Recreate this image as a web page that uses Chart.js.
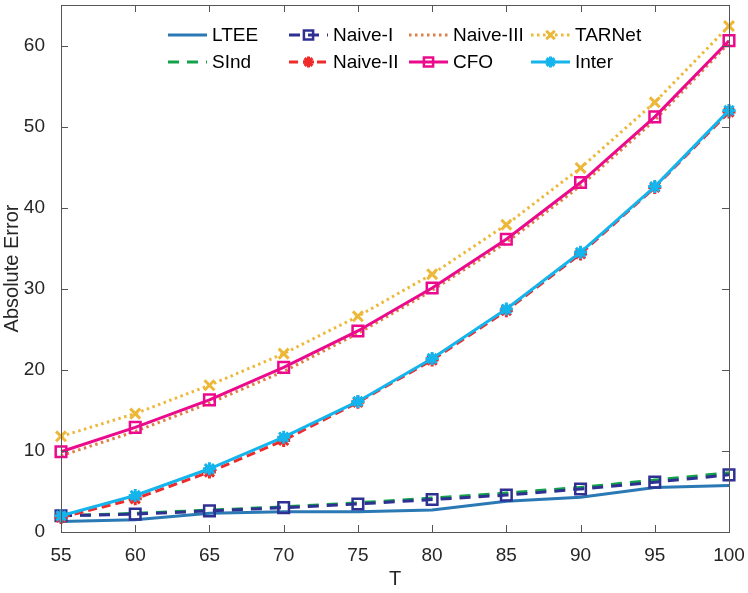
<!DOCTYPE html>
<html>
<head>
<meta charset="utf-8">
<script src="https://cdn.jsdelivr.net/npm/chart.js@4/dist/chart.umd.min.js"></script>
<style>
  html, body { margin: 0; padding: 0; background: #fff; }
  #wrap { width: 748px; height: 593px; }
</style>
</head>
<body>
<div id="wrap"><canvas id="errChart" width="748" height="593"></canvas></div>
<script>
// values
const tValues = [55, 60, 65, 70, 75, 80, 85, 90, 95, 100];
const yTicks = [0, 10, 20, 30, 40, 50, 60];

const ltee     = [1.3, 1.5, 2.3, 2.5, 2.5, 2.7, 3.8, 4.3, 5.5, 5.75];
const sind     = [2.0, 2.3, 2.7, 3.1, 3.6, 4.2, 4.8, 5.5, 6.4, 7.3];
const naiveI   = [2.0, 2.2, 2.6, 3.0, 3.45, 4.0, 4.55, 5.3, 6.15, 7.05];
const naiveII  = [1.8, 4.1, 7.4, 11.3, 16.0, 21.2, 27.3, 34.3, 42.5, 51.8];
const naiveIII = [9.4, 12.4, 15.9, 19.8, 24.5, 29.8, 35.7, 42.7, 50.8, 60.3];
const cfo      = [9.9, 12.9, 16.3, 20.3, 24.8, 30.1, 36.1, 43.1, 51.2, 60.6];
const tarnet   = [11.8, 14.6, 18.1, 22.0, 26.6, 31.8, 37.9, 44.9, 53.0, 62.4];
const inter    = [2.0, 4.5, 7.8, 11.7, 16.1, 21.4, 27.5, 34.5, 42.6, 52.0];

const FONT = '"Liberation Sans", Arial, Helvetica, sans-serif';

const pts = arr => arr.map((v, i) => ({ x: tValues[i], y: v }));

// drawing order follows this list (later = on top)
const series = [
    { label: 'LTEE', data: ltee, color: '#2a79b4', dash: [], marker: 0, style: 'circle' },
    { label: 'SInd', data: sind, color: '#12a34a', dash: [11, 8], marker: 0, style: 'circle' },
    { label: 'Naive-I', data: naiveI, color: '#2e3192', dash: [11, 8], marker: 7.5, style: 'rect' },
    { label: 'Naive-II', data: naiveII, color: '#ee2a2a', dash: [9, 5], marker: 6.5, style: 'star' },
    { label: 'Naive-III', data: naiveIII, color: '#dc8048', dash: [2.5, 3.5], marker: 0, style: 'circle' },
    { label: 'CFO', data: cfo, color: '#ec0a8c', dash: [], marker: 7.5, style: 'rect' },
    { label: 'TARNet', data: tarnet, color: '#edb83a', dash: [2.5, 3.5], marker: 7, style: 'crossRot' },
    { label: 'Inter', data: inter, color: '#14b4ec', dash: [], marker: 6.5, style: 'star' }
];

// legend grid: MATLAB fills columns first
const legendCols = [[0, 1], [2, 3], [4, 5], [6, 7]];

const datasets = series.map((s, i) => ({
    label: s.label,
    data: pts(s.data),
    borderColor: s.color,
    backgroundColor: s.style === 'rect' ? '#ffffff' : s.color,
    borderWidth: 3,
    borderDash: s.dash,
    pointStyle: s.style,
    pointRadius: s.marker,
    pointBorderWidth: s.style === 'rect' ? 2.5 : 3,
    pointBorderColor: s.color,
    pointBackgroundColor: s.style === 'rect' ? 'rgba(255,255,255,0)' : s.color,
    tension: 0,
    order: series.length - i,
    clip: false
}));

const boxPlugin = {
    id: 'boxTicks',
    afterDraw(chart) {
        const { ctx, chartArea: a, scales } = chart;
        ctx.save();
        ctx.strokeStyle = '#555';
        ctx.lineWidth = 1;
        ctx.strokeRect(a.left + 0.5, a.top + 0.5, a.right - a.left, a.bottom - a.top);
        const len = 7;
        ctx.beginPath();
        tValues.forEach(t => {
            const x = Math.round(scales.x.getPixelForValue(t)) + 0.5;
            ctx.moveTo(x, a.bottom); ctx.lineTo(x, a.bottom - len);
            ctx.moveTo(x, a.top); ctx.lineTo(x, a.top + len);
        });
        yTicks.forEach(v => {
            const y = Math.round(scales.y.getPixelForValue(v)) + 0.5;
            ctx.moveTo(a.left, y); ctx.lineTo(a.left + len, y);
            ctx.moveTo(a.right, y); ctx.lineTo(a.right - len, y);
        });
        ctx.stroke();

        // legend
        const colX = [168, 289, 409, 531];
        const rowY = [35, 62];
        const sampleLen = 39;
        ctx.font = '19px ' + FONT;
        ctx.textBaseline = 'middle';
        legendCols.forEach((col, c) => {
            col.forEach((idx, r) => {
                const s = series[idx];
                const ds = datasets[idx];
                const x0 = colX[c], y0 = rowY[r];
                ctx.save();
                ctx.strokeStyle = s.color;
                ctx.lineWidth = 3;
                ctx.setLineDash(s.dash);
                ctx.beginPath();
                ctx.moveTo(x0, y0); ctx.lineTo(x0 + sampleLen, y0);
                ctx.stroke();
                ctx.setLineDash([]);
                if (s.marker) {
                    ctx.strokeStyle = s.color;
                    ctx.fillStyle = ds.pointBackgroundColor;
                    ctx.lineWidth = ds.pointBorderWidth;
                    Chart.helpers.drawPoint(ctx, { pointStyle: s.style, radius: s.marker - 1, rotation: 0, borderWidth: ds.pointBorderWidth }, x0 + sampleLen / 2, y0);
                }
                ctx.restore();
                ctx.fillStyle = '#000';
                ctx.fillText(s.label, x0 + sampleLen + 5, y0 + 1);
            });
        });
        ctx.restore();
    }
};

Chart.defaults.font.family = FONT;
Chart.defaults.color = '#262626';

new Chart(document.getElementById('errChart').getContext('2d'), {
    type: 'line',
    data: { datasets },
    options: {
        responsive: false,
        animation: false,
        layout: { autoPadding: false, padding: { top: 5, right: 19, left: 0, bottom: 0 } },
        plugins: { legend: { display: false }, tooltip: { enabled: false } },
        scales: {
            x: {
                type: 'linear',
                min: 55, max: 100,
                grid: { display: false },
                border: { display: false },
                ticks: { stepSize: 5, padding: 4, font: { size: 19 }, maxRotation: 0 },
                title: { display: true, text: 'T', font: { size: 20 }, padding: { top: 0, bottom: 2 } },
                afterFit: s => { s.height = 61; s.paddingLeft = 0; s.paddingRight = 0; }
            },
            y: {
                min: 0, max: 65,
                grid: { display: false },
                border: { display: false },
                afterBuildTicks: s => { s.ticks = yTicks.map(v => ({ value: v })); },
                ticks: { padding: 8, font: { size: 19 } },
                title: { display: true, text: 'Absolute Error', font: { size: 20 }, padding: { top: 0, bottom: 0 } },
                afterFit: s => { s.width = 61; s.paddingTop = 0; s.paddingBottom = 0; }
            }
        }
    },
    plugins: [boxPlugin]
});
</script>
</body>
</html>
